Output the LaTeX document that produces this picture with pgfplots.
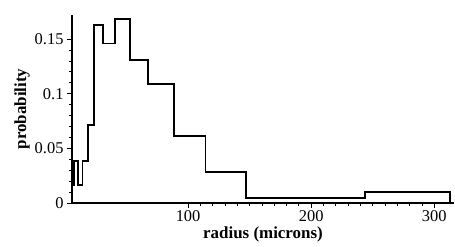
\documentclass[border=0pt]{standalone}
\usepackage{pgfplots}
\pgfplotsset{compat=1.18}
\usepackage{fontspec}
\setmainfont{Liberation Serif}
\begin{document}
\begin{tikzpicture}
\path[use as bounding box] (-72bp,-44bp) rectangle (383bp,203bp);
\begin{axis}[
  scale only axis,
  width=382bp, height=188bp,
  xmin=5.7, xmax=316,
  ymin=0, ymax=0.172,
  axis x line*=bottom,
  axis y line*=left,
  axis line style={line width=1.1pt},
  xtick={100,200,300},
  minor x tick num=9,
  ytick={0,0.05,0.1,0.15},
  yticklabels={0,0.05,0.1,0.15},
  minor y tick num=4,
  tick align=outside,
  major tick length=5bp,
  minor tick length=3bp,
  tick style={line width=0.8pt, black},
  /pgf/number format/assume math mode=true,
  ticklabel style={font=\fontsize{16.5}{17}\selectfont},
  xticklabel style={yshift=1bp},
  xlabel={\textbf{radius (microns)}},
  ylabel={\textbf{probability}},
  label style={font=\fontsize{17}{18}\selectfont},
  xlabel style={at={(axis description cs:0.5,-0.168)}, anchor=center},
  ylabel style={at={(axis description cs:-0.131,0.5)}, anchor=center, rotate=0},
  clip=false,
]
\addplot[const plot, line width=1.8pt, black] coordinates {
  (5.7,0)
  (5.7,0.0165)
  (7.3,0.0384)
  (10.5,0.0165)
  (14.3,0.0384)
  (18.4,0.0714)
  (23.8,0.1626)
  (31.0,0.146)
  (40.5,0.168)
  (52.5,0.1305)
  (67.5,0.1086)
  (88.4,0.061)
  (114.1,0.028)
  (147.3,0.0046)
  (243.8,0.0103)
  (312.7,0.0103)
  (312.7,0)
};
\end{axis}
\end{tikzpicture}
\end{document}
